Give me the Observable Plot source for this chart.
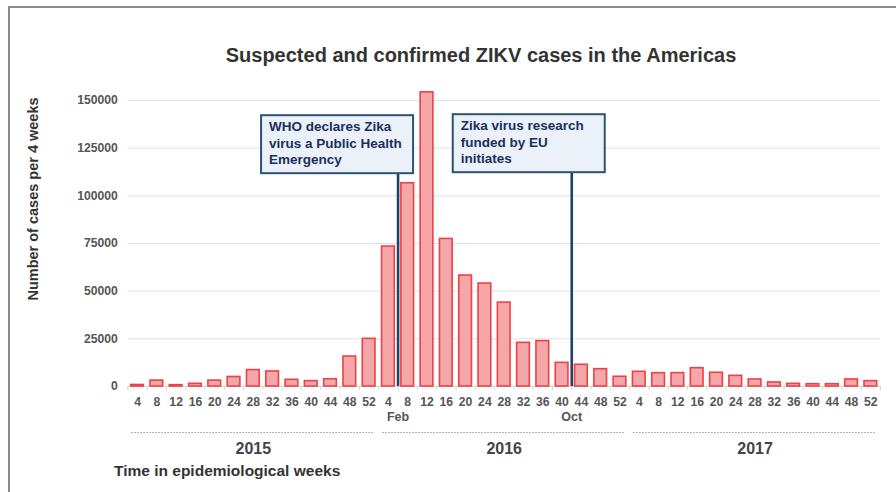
<!DOCTYPE html>
<html>
<head>
<meta charset="utf-8">
<script src="https://cdn.jsdelivr.net/npm/d3@7"></script>
<script src="https://cdn.jsdelivr.net/npm/@observablehq/plot@0.6"></script>
<style>
  html, body { margin: 0; padding: 0; background: #fff; }
  body { width: 896px; height: 492px; position: relative; overflow: hidden;
         font-family: "Liberation Sans", Arial, sans-serif; }
  #frame { position: absolute; left: 8px; top: 6px; right: 0; bottom: 0;
           border-top: 2px solid #8c8c8c; border-left: 2px solid #8c8c8c; }
  #chart { position: absolute; left: 0; top: 0; }
  .title { position: absolute; left: 0; width: 962px; top: 44px; text-align: center;
           font-weight: bold; font-size: 20px; color: #333; }
  .ylabel { position: absolute; left: 33px; top: 199px; transform: translate(-50%, -50%) rotate(-90deg);
            white-space: nowrap; font-weight: bold; font-size: 14.5px; color: #333; }
  .xlabel { position: absolute; left: 114px; top: 462px; font-weight: bold; font-size: 15.5px; color: #333; }
</style>
</head>
<body>
<div id="frame"></div>
<div id="chart"></div>
<div class="title">Suspected and confirmed ZIKV cases in the Americas</div>
<div class="ylabel">Number of cases per 4 weeks</div>
<div class="xlabel">Time in epidemiological weeks</div>
<script>
const years = [2015, 2016, 2017];
const weeks = [4, 8, 12, 16, 20, 24, 28, 32, 36, 40, 44, 48, 52];
const cases2015 = [800, 3100, 700, 1400, 3100, 5000, 8600, 7900, 3500, 2800, 3800, 15700, 25000];
const cases2016 = [73400, 106600, 154300, 77400, 58200, 54000, 44000, 22900, 23800, 12400, 11400, 9100, 5100];
const cases2017 = [7700, 7000, 7000, 9600, 7200, 5600, 3700, 2100, 1400, 1200, 1200, 3700, 2800];
const yTicks = [0, 25000, 50000, 75000, 100000, 125000, 150000];

const eventLabels = ["WHO declares Zika\nvirus a Public Health\nEmergency", "Zika virus research\nfunded by EU\ninitiates"];
const eventYears = [2016, 2016];
const eventWeeks = [6, 42];
const eventMonths = ["Feb", "Oct"];

// build tables
const casesByYear = [cases2015, cases2016, cases2017];
const idx = (year, week) => (year - years[0]) * weeks.length + (week - weeks[0]) / 4;
const data = [];
years.forEach((y, yi) => weeks.forEach((w, wi) => data.push({year: y, week: w, i: idx(y, w), cases: casesByYear[yi][wi]})));
const events = eventLabels.map((label, k) => ({label, month: eventMonths[k], pos: idx(eventYears[k], eventWeeks[k])}));
const yearRows = years.map(y => ({year: y, first: idx(y, weeks[0]), last: idx(y, weeks[weeks.length - 1])}));
const bounds = d3.range(-0.5, data.length, 1);

const navy = "#1f4266";
const txt = "#555";

const chart = Plot.plot({
  width: 896,
  height: 492,
  marginLeft: 127.4,
  marginRight: 16,
  marginTop: 100,
  marginBottom: 106,
  style: {fontFamily: '"Liberation Sans", Arial, sans-serif', background: "transparent", overflow: "visible"},
  x: {type: "linear", domain: [-0.5, data.length - 0.5], axis: null, label: null},
  y: {domain: [0, 150000], axis: null, label: null},
  marks: [
    Plot.ruleY(yTicks.filter(d => d > 0), {stroke: "#e2e2e2", strokeWidth: 1}),
    Plot.ruleY([0], {stroke: "#d4d4d4", strokeWidth: 1}),
    Plot.axisX({ticks: bounds, tickSize: 4, tickFormat: () => "", stroke: "#d8d8d8", label: null}),
    Plot.rectY(data, {x1: d => d.i - 0.5, x2: d => d.i + 0.5, y: "cases", insetLeft: 3.3, insetRight: 3.3,
      fill: "#f5a6a8", stroke: "#ee4145", strokeWidth: 1.6}),
    Plot.ruleX(events, {x: "pos", y1: 0, y2: 130000, stroke: navy, strokeWidth: 2.6}),
    Plot.text([events[0]], {x: "pos", frameAnchor: "top", text: "label", textAnchor: "start", lineAnchor: "top",
      dx: -129, dy: 19, fontWeight: "bold", fontSize: 13.5, lineHeight: 1.22, fill: "#1b2f5e", className: "annot"}),
    Plot.text([events[1]], {x: "pos", frameAnchor: "top", text: "label", textAnchor: "start", lineAnchor: "top",
      dx: -111, dy: 18, fontWeight: "bold", fontSize: 13.5, lineHeight: 1.22, fill: "#1b2f5e", className: "annot"}),
    Plot.axisY({ticks: yTicks, tickSize: 0, tickPadding: 10, tickFormat: d => String(d), label: null,
      fontSize: 12.2, fontWeight: "bold", fill: txt}),
    Plot.axisX({ticks: data.map(d => d.i), tickSize: 0, tickPadding: 11, label: null,
      tickFormat: i => String(data[Math.round(i)].week), fontSize: 12.2, fontWeight: "bold", fill: txt}),
    Plot.text(events, {x: "pos", y: () => 0, dy: 30, text: "month", fontSize: 12.5, fontWeight: "bold", fill: txt}),
    Plot.ruleY(yearRows, {x1: d => d.first - 0.5, x2: d => d.last + 0.5, y: () => 0, dy: 46,
      insetLeft: 4, insetRight: 4, stroke: "#9a9a9a", strokeWidth: 1, strokeDasharray: "1.5,1.5"}),
    Plot.text(yearRows, {x: d => (d.first + d.last) / 2, y: () => 0, dy: 62, text: d => String(d.year),
      fontSize: 16, fontWeight: "bold", fill: "#444"})
  ]
});
document.getElementById("chart").appendChild(chart);

// draw framed boxes behind annotation texts (same transform as the text)
const BOX_W = 152, BOX_H = 58, PAD_L = 8, PAD_T = 4;
d3.select(chart).selectAll("g.annot text").each(function() {
  const bb = this.getBBox();
  d3.select(this.parentNode).insert("rect", "text")
    .attr("transform", this.getAttribute("transform"))
    .attr("x", bb.x - PAD_L).attr("y", bb.y - PAD_T)
    .attr("width", BOX_W).attr("height", BOX_H)
    .attr("fill", "#eaf1f8").attr("stroke", "#2e5275").attr("stroke-width", 2);
});
</script>
</body>
</html>
